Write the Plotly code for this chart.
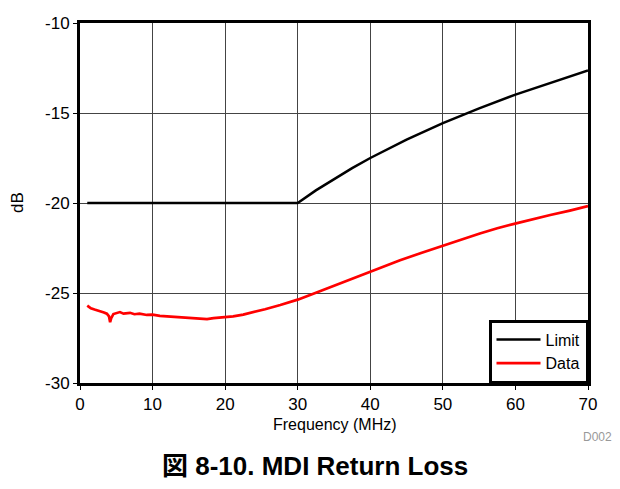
import plotly.graph_objects as go

# Limit curve (MHz, dB)
limit_f = [1, 5, 10, 15, 20, 25, 30, 32.5, 35, 37.5, 40, 45, 50, 55, 60, 65, 70]
limit_db = [-20, -20, -20, -20, -20, -20, -20, -19.3, -18.66, -18.06, -17.5, -16.48, -15.56, -14.74, -13.98, -13.29, -12.64]

# Measured data (MHz, dB)
data_f = [1.0, 1.5, 2.0, 2.8, 3.3, 3.7, 4.0, 4.15, 4.3, 4.6, 5.0, 5.5, 6.0, 6.9, 7.5, 8.2, 9.2, 10.0, 11.0,
          12.0, 13.8, 15.0, 16.5, 17.5, 18.4, 19.3, 20.2, 21.1, 22.5, 23.9, 25.5, 27.6, 30.0, 32.6, 35.8,
          38.0, 40.1, 42.7, 44.1, 47.0, 50.1, 52.5, 55.1, 57.5, 60.1, 62.5, 64.8, 67.5, 70.0]
data_db = [-25.7, -25.85, -25.92, -26.0, -26.08, -26.15, -26.3, -26.62, -26.4, -26.17, -26.12, -26.06, -26.15, -26.1, -26.18, -26.15, -26.22, -26.2, -26.27,
           -26.3, -26.37, -26.4, -26.43, -26.45, -26.4, -26.38, -26.33, -26.3, -26.2, -26.07, -25.9, -25.67, -25.37, -24.97, -24.46,
           -24.12, -23.8, -23.37, -23.18, -22.78, -22.38, -22.04, -21.69, -21.4, -21.13, -20.88, -20.67, -20.42, -20.17]

x_ticks = [0, 10, 20, 30, 40, 50, 60, 70]
y_ticks = [-30, -25, -20, -15, -10]
y_tick_text = ['-30', '-25', '-20', '-15', '-10']

fig = go.Figure()
fig.add_trace(go.Scatter(x=limit_f, y=limit_db, mode='lines', name='Limit',
                         line=dict(color='black', width=2.5)))
fig.add_trace(go.Scatter(x=data_f, y=data_db, mode='lines', name='Data',
                         line=dict(color='#ff0000', width=2.7)))

axis_font = dict(family='Liberation Sans, Arial', size=17, color='black')

# page body has an 8px margin, so the figure is nudged up/left by 8px
fig.update_layout(
    width=620, height=489,
    margin=dict(l=72, r=40, t=15, b=114),
    plot_bgcolor='white', paper_bgcolor='white',
    font=dict(family='Liberation Sans, Arial', color='black'),
    xaxis=dict(range=[0, 70], tickvals=x_ticks, tickfont=axis_font, automargin=False,
               showgrid=True, gridcolor='#444444', gridwidth=1, zeroline=False,
               showline=True, linecolor='black', linewidth=3, mirror=True,
               ticks='outside', ticklen=4, tickcolor='black'),
    yaxis=dict(range=[-30, -10], tickvals=y_ticks, ticktext=y_tick_text, tickfont=axis_font,
               automargin=False,
               showgrid=True, gridcolor='#444444', gridwidth=1, zeroline=False,
               showline=True, linecolor='black', linewidth=3, mirror=True,
               ticks='outside', ticklen=4, tickcolor='black'),
    legend=dict(x=1, y=0, xanchor='right', yanchor='bottom', bgcolor='white',
                bordercolor='black', borderwidth=2.5, font=dict(size=16),
                tracegroupgap=0, itemwidth=44),
    showlegend=True,
)

# grey rule at the top of the page
fig.add_shape(type='line', xref='paper', yref='paper',
              x0=-80 / 508, x1=540 / 508, y0=378 / 360, y1=378 / 360,
              line=dict(color='#666666', width=2))

# axis titles
fig.add_annotation(text='Frequency (MHz)', xref='paper', yref='paper', x=(335 - 80) / 508,
                   y=-(424 - 383) / 360, xanchor='center', yanchor='middle', showarrow=False,
                   font=dict(size=16))
fig.add_annotation(text='dB', xref='paper', yref='paper', x=(17 - 80) / 508, y=0.5,
                   xanchor='center', yanchor='middle', textangle=-90, showarrow=False,
                   font=dict(size=17))

fig.add_annotation(text='D002', xref='paper', yref='paper', x=(597 - 80) / 508, y=-(437 - 383) / 360,
                   xanchor='center', yanchor='middle',
                   showarrow=False, font=dict(size=12, color='#999999'))
fig.add_annotation(text='<b>図 8-10. MDI Return Loss</b>', xref='paper', yref='paper',
                   x=(315 - 80) / 508, y=-(466 - 383) / 360, xanchor='center', yanchor='middle',
                   showarrow=False,
                   font=dict(size=26, color='black', family='Liberation Sans, Noto Sans CJK JP'))

fig.write_html('out.html')
